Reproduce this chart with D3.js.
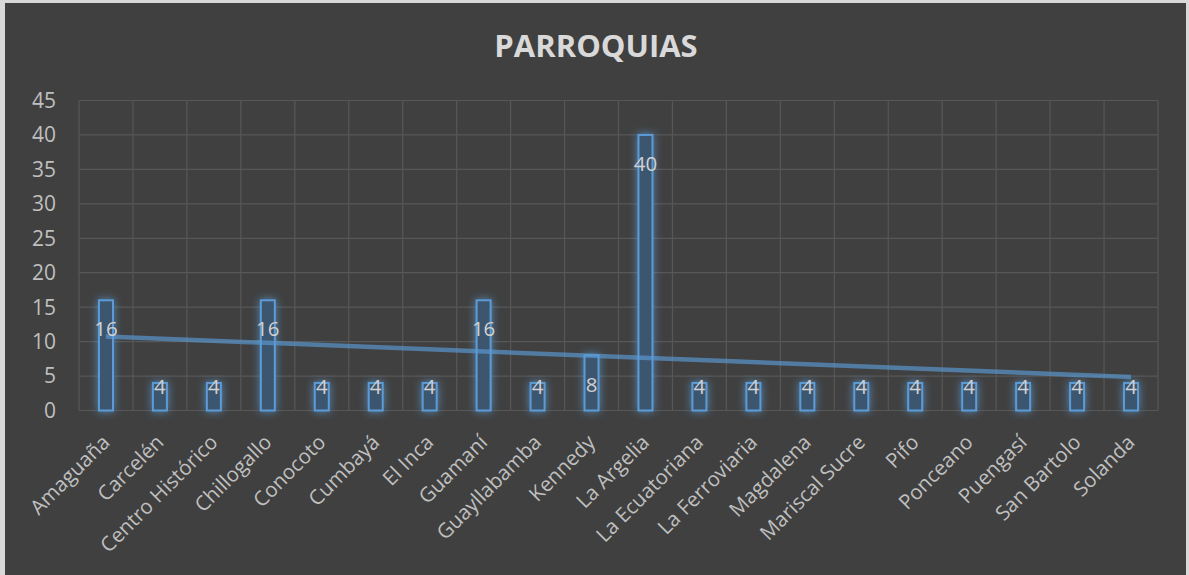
<!DOCTYPE html>
<html>
<head>
<meta charset="utf-8">
<script src="https://cdn.jsdelivr.net/npm/d3@7"></script>
<style>
    body { margin: 0; background: #d9d9d9; }
    text { font-family: "Open Sans", "DejaVu Sans", sans-serif; }
</style>
</head>
<body>
<div id="chart"></div>
<script>
// DATA
let PARROQUIAS = ["Amaguaña", "Carcelén", "Centro Histórico", "Chillogallo", "Conocoto", "Cumbayá",
    "El Inca", "Guamaní", "Guayllabamba", "Kennedy", "La Argelia", "La Ecuatoriana", "La Ferroviaria",
    "Magdalena", "Mariscal Sucre", "Pifo", "Ponceano", "Puengasí", "San Bartolo", "Solanda"]
let VALORES = [16, 4, 4, 16, 4, 4, 4, 16, 4, 8, 40, 4, 4, 4, 4, 4, 4, 4, 4, 4]
let Y_TICKS = [0, 5, 10, 15, 20, 25, 30, 35, 40, 45]
let TITULO = "PARROQUIAS"

let width = 1189, height = 575
let plotLeft = 79, plotRight = 1158, plotTop = 100.5, plotBottom = 410.5

let svg = d3.select("#chart")
    .append("svg")
    .attr("width", width)
    .attr("height", height)

// chart background
svg.append("rect")
    .attr("x", 5).attr("y", 3)
    .attr("width", 1181).attr("height", 575)
    .attr("fill", "#404040")

let defs = svg.append("defs")
let glow = defs.append("filter").attr("id", "glow")
    .attr("x", "-100%").attr("y", "-30%").attr("width", "300%").attr("height", "160%")
glow.append("feGaussianBlur").attr("in", "SourceAlpha").attr("stdDeviation", 4.5).attr("result", "blur")
glow.append("feFlood").attr("flood-color", "#5b9bd5").attr("flood-opacity", 0.8)
glow.append("feComposite").attr("in2", "blur").attr("operator", "in").attr("result", "shadow")
let merge = glow.append("feMerge")
merge.append("feMergeNode").attr("in", "shadow")
merge.append("feMergeNode").attr("in", "SourceGraphic")

let x = d3.scaleBand()
    .domain(PARROQUIAS)
    .range([plotLeft, plotRight])
    .paddingInner(0)
let y = d3.scaleLinear()
    .domain([0, 45])
    .range([plotBottom, plotTop])

// horizontal gridlines
svg.append("g").selectAll("line")
    .data(Y_TICKS)
    .enter()
    .append("line")
    .attr("x1", plotLeft).attr("x2", plotRight)
    .attr("y1", function (d) { return y(d) }).attr("y2", function (d) { return y(d) })
    .attr("stroke", "#575757").attr("stroke-width", 1.2)

// vertical gridlines (category boundaries)
let bounds = PARROQUIAS.map(function (p) { return x(p) }).concat([plotRight])
svg.append("g").selectAll("line")
    .data(bounds)
    .enter()
    .append("line")
    .attr("x1", function (d) { return d }).attr("x2", function (d) { return d })
    .attr("y1", plotTop).attr("y2", plotBottom)
    .attr("stroke", "#575757").attr("stroke-width", 1.2)

// y axis labels
svg.append("g").selectAll("text")
    .data(Y_TICKS)
    .enter()
    .append("text")
    .attr("x", 56)
    .attr("y", function (d) { return y(d) })
    .attr("dy", "0.35em")
    .attr("text-anchor", "end")
    .attr("fill", "#bfbfbf")
    .style("font-size", "21px")
    .text(function (d) { return d })

// bars
let barW = 14
svg.append("g").selectAll("rect")
    .data(VALORES)
    .enter()
    .append("rect")
    .attr("x", function (d, i) { return x(PARROQUIAS[i]) + x.bandwidth() / 2 - barW / 2 })
    .attr("y", function (d) { return y(d) })
    .attr("width", barW)
    .attr("height", function (d) { return y(0) - y(d) })
    .attr("fill", "#3e5670")
    .attr("stroke", "#5b9bd5")
    .attr("stroke-width", 2)
    .attr("filter", "url(#glow)")

// linear trendline (least squares over category index)
let n = VALORES.length
let xs = d3.range(1, n + 1)
let mx = d3.mean(xs), my = d3.mean(VALORES)
let sxy = d3.sum(xs, function (v, i) { return (v - mx) * (VALORES[i] - my) })
let sxx = d3.sum(xs, function (v) { return (v - mx) * (v - mx) })
let slope = sxy / sxx, icpt = my - slope * mx
let trend = [1, n].map(function (k) { return { name: PARROQUIAS[k - 1], value: icpt + slope * k } })
svg.append("path")
    .datum(trend)
    .attr("d", d3.line()
        .x(function (d) { return x(d.name) + x.bandwidth() / 2 })
        .y(function (d) { return y(d.value) }))
    .attr("stroke", "#5b9bd5")
    .attr("stroke-opacity", 0.65)
    .attr("stroke-width", 4.5)
    .attr("fill", "none")

// data labels
svg.append("g").selectAll("text")
    .data(VALORES)
    .enter()
    .append("text")
    .attr("x", function (d, i) { return x(PARROQUIAS[i]) + x.bandwidth() / 2 })
    .attr("y", function (d) {
        let ly = y(d) + 29
        if (ly > y(0) - 20) ly = y(d) + 4
        return ly
    })
    .attr("dy", "0.35em")
    .attr("text-anchor", "middle")
    .attr("fill", "#d0d0d0")
    .style("font-size", "20.5px")
    .text(function (d) { return d })

// x axis labels
svg.append("g").selectAll("text")
    .data(PARROQUIAS)
    .enter()
    .append("text")
    .attr("transform", function (d) {
        return "translate(" + (x(d) + x.bandwidth() / 2) + "," + (plotBottom + 28) + ") rotate(-45)"
    })
    .attr("text-anchor", "end")
    .attr("dy", "0.35em")
    .attr("fill", "#bfbfbf")
    .style("font-size", "20.5px")
    .text(function (d) { return d })

// title
svg.append("text")
    .attr("x", 596)
    .attr("y", 57)
    .attr("text-anchor", "middle")
    .attr("fill", "#d9d9d9")
    .style("font-size", "31px")
    .style("font-weight", "bold")
    .text(TITULO)
</script>
</body>
</html>
